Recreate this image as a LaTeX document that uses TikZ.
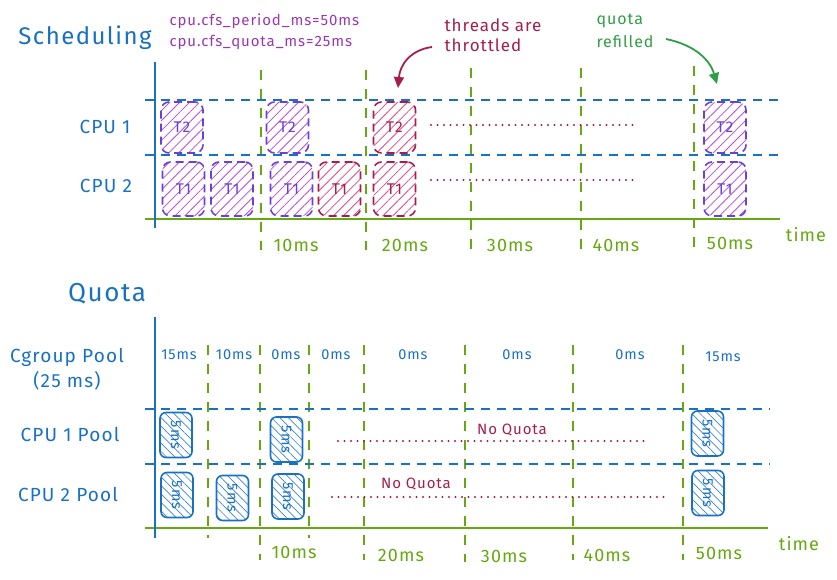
\documentclass[tikz,border=0pt]{standalone}
\usepackage{fontspec}
\setmainfont{Fira Sans}[LetterSpace=6]
\usetikzlibrary{patterns.meta,arrows.meta}
\definecolor{xblue}{RGB}{25,113,194}
\definecolor{xgreen}{RGB}{102,168,15}
\definecolor{xpurple}{RGB}{156,54,181}
\definecolor{xviolet}{RGB}{103,65,217}
\definecolor{xvhatch}{RGB}{190,75,219}
\definecolor{xred}{RGB}{166,30,77}
\definecolor{xrhatch}{RGB}{230,73,128}
\definecolor{xdgreen}{RGB}{47,158,68}
\definecolor{xqhatch}{RGB}{60,130,215}
\begin{document}
\begin{tikzpicture}[x=1pt,y=-1pt,
  fs/.style={font=\fontsize{#1}{#1}\selectfont},
  title/.style={fs=24,text=xblue},
  rowlab/.style={fs=19,text=xblue},
  tick/.style={fs=18,text=xgreen},
  pool/.style={fs=14.5,text=xblue},
  bsep/.style={draw=xblue,line width=1.6pt,dash pattern=on 9pt off 7pt},
  gsep/.style={draw=xgreen,line width=1.6pt,dash pattern=on 10pt off 9pt},
  axisv/.style={draw=xblue,line width=1.6pt},
  axish/.style={draw=xgreen,line width=1.6pt},
  rdot/.style={draw=xred,line width=2.2pt,line cap=round,dash pattern=on 0pt off 6.5pt},
  tsk/.style={draw=xviolet,line width=1.6pt,dash pattern=on 8pt off 5pt,rounded corners=8pt,
     minimum width=42pt,inner sep=0pt,text=xviolet,fs=15.5,
     pattern={Lines[angle=45,distance=7pt,line width=0.8pt]},pattern color=xvhatch},
  tskr/.style={tsk,draw=xred,text=xred,pattern color=xrhatch},
  qb/.style={draw=xblue,line width=1.6pt,rounded corners=6pt,minimum width=32pt,minimum height=45pt,
     inner sep=0pt,text=xblue,fs=14.5,
     pattern={Lines[angle=-45,distance=6pt,line width=0.7pt]},pattern color=xqhatch},
]
\useasboundingbox (0,0) rectangle (837,579);

% ---------------- Scheduling ----------------
\node[title] (tsched) at (85,38) {Scheduling};
\node[fs=15,text=xpurple,anchor=west] (cfg1) at (166,21) {cpu.cfs\_period\_ms=50ms};
\node[fs=15,text=xpurple,anchor=west] (cfg2) at (166,42) {cpu.cfs\_quota\_ms=25ms};
\node[fs=17,text=xred,anchor=west] (thr1) at (441,25) {threads are};
\node[fs=17,text=xred,anchor=west] (thr2) at (441,45) {throttled};
\node[fs=16,text=xdgreen,anchor=west] (qr1) at (593,21) {quota};
\node[fs=16,text=xdgreen,anchor=west] (qr2) at (593,42) {refilled};

\node[rowlab] (cpu1) at (105,127) {CPU 1};
\node[rowlab] (cpu2) at (106,186) {CPU 2};

% grid
\foreach \x/\t in {261/70,366/70,471/68,581/68,694/66}
  \draw[gsep] (\x,\t) -- (\x,250);
\draw[bsep] (145,100) -- (782,100);
\draw[bsep] (145,155) -- (782,155);
\draw[axish] (145,219) -- (780,219);
\draw[axisv] (155,62) -- (155,228);

% tasks
\node[tsk,minimum height=51pt] (a2) at (182,127.5) {T2};
\node[tsk,minimum height=51pt] (b2) at (287.5,127.5) {T2};
\node[tskr,minimum height=51pt] (c2) at (394.5,127.5) {T2};
\node[tsk,minimum height=51pt] (d2) at (725,127.5) {T2};
\node[tsk,minimum height=54pt] (a1) at (183.5,189) {T1};
\node[tsk,minimum height=54pt] (b1) at (232,189) {T1};
\node[tsk,minimum height=54pt] (c1) at (291.5,189) {T1};
\node[tskr,minimum height=54pt] (e1) at (339.5,189) {T1};
\node[tskr,minimum height=54pt] (f1) at (394.5,189) {T1};
\node[tsk,minimum height=54pt] (d1) at (725,189) {T1};

\coordinate (r1s) at (431,125); \coordinate (r1e) at (633,125);
\coordinate (r2s) at (431,180); \coordinate (r2e) at (633,180);
\draw[rdot] (r1s) -- (r1e);
\draw[rdot] (r2s) -- (r2e);

% arrows
\coordinate (ra0) at (432,47); \coordinate (ra1) at (398,88);
\draw[xred,line width=1.8pt,-{Triangle[length=11pt,width=10pt]}] (ra0) .. controls (410,50) and (400,65) .. (ra1);
\coordinate (ga0) at (666,39); \coordinate (ga1) at (717,84);
\draw[xdgreen,line width=1.8pt,-{Triangle[length=11pt,width=10pt]}] (ga0) .. controls (695,45) and (710,60) .. (ga1);

% ticks
\node[tick] (s10) at (296,245) {10ms};
\node[tick] (s20) at (405,245) {20ms};
\node[tick] (s30) at (510,245) {30ms};
\node[tick] (s40) at (616,245) {40ms};
\node[tick] (s50) at (730,243) {50ms};
\node[tick] (stime) at (806,235) {time};

% ---------------- Quota ----------------
\node[title,fs=26] (tquota) at (107,294) {Quota};
\node[rowlab] (cg1) at (67,357) {Cgroup Pool};
\node[rowlab] (cg2) at (67,381) {(25 ms)};
\node[rowlab] (p1) at (70,434) {CPU 1 Pool};
\node[rowlab] (p2) at (68,494) {CPU 2 Pool};

\foreach \x/\b in {208/538,260/560,309/538,364/560,465/562,573/560,683/560}
  \draw[gsep] (\x,345) -- (\x,\b);
\draw[bsep] (145,409) -- (770,409);
\draw[bsep] (145,464) -- (770,464);
\draw[axish] (145,528) -- (768,528);
\draw[axisv] (155,317) -- (155,538);

\node[pool] (v1) at (179,355) {15ms};
\node[pool] (v2) at (234,355) {10ms};
\node[pool] (v3) at (286,355) {0ms};
\node[pool] (v4) at (336,355) {0ms};
\node[pool] (v5) at (413,355) {0ms};
\node[pool] (v6) at (517,355) {0ms};
\node[pool] (v7) at (630,355) {0ms};
\node[pool] (v8) at (723,357) {15ms};

\node[qb] (q11) at (176,435) {\rotatebox{-90}{5ms}};
\node[qb] (q12) at (286.5,439.5) {\rotatebox{-90}{5ms}};
\node[qb] (q13) at (707.5,433.5) {\rotatebox{-90}{5ms}};
\node[qb] (q21) at (177,495) {\rotatebox{-90}{5ms}};
\node[qb] (q22) at (232.5,498) {\rotatebox{-90}{5ms}};
\node[qb] (q23) at (288,496.5) {\rotatebox{-90}{5ms}};
\node[qb] (q24) at (708,493) {\rotatebox{-90}{5ms}};

\coordinate (n1s) at (338,441); \coordinate (n1e) at (648,441);
\coordinate (n2s) at (332,497); \coordinate (n2e) at (668,497);
\draw[rdot] (n1s) -- (n1e);
\draw[rdot] (n2s) -- (n2e);
\node[fs=15,text=xred] (nq1) at (512,430) {No Quota};
\node[fs=15,text=xred] (nq2) at (416,484) {No Quota};

\node[tick] (u10) at (294,552) {10ms};
\node[tick] (u20) at (401,555) {20ms};
\node[tick] (u30) at (504,556) {30ms};
\node[tick] (u40) at (607,555) {40ms};
\node[tick] (u50) at (719,553) {50ms};
\node[tick] (utime) at (799,544) {time};
\end{tikzpicture}
\end{document}
